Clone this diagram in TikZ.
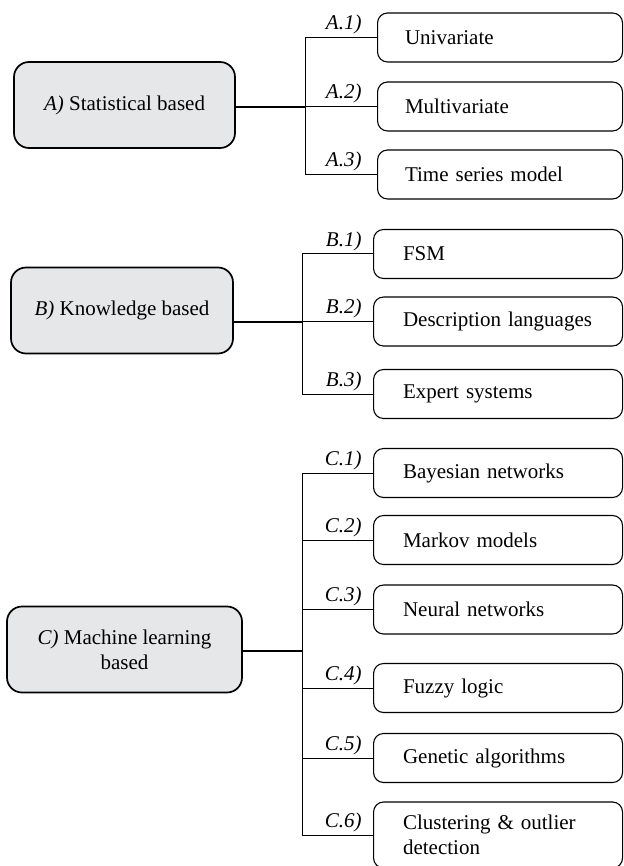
\documentclass[tikz,border=0pt]{standalone}
\usepackage{fontspec}
\setmainfont{Liberation Serif}
\usepackage{tikz}
\usetikzlibrary{positioning,calc}
\definecolor{boxgrey}{RGB}{230,231,233}

\begin{document}
\begin{tikzpicture}[x=1pt,y=-1pt,
  every node/.style={font=\fontsize{21}{25}\selectfont},
  mainbox/.style={draw,rounded corners=15pt,fill=boxgrey,line width=1.7pt,minimum width=221pt,minimum height=86pt,align=center,inner sep=0pt},
  leafbox/.style={draw,rounded corners=10pt,line width=1.1pt,anchor=west,text width=190pt,align=left,inner xsep=29.5pt,inner ysep=8pt,minimum height=49pt},
  tag/.style={anchor=south east,inner sep=0pt,xshift=-11pt,yshift=3pt,font=\fontsize{21}{25}\selectfont\itshape},
  branch/.style={line width=1pt}]
\useasboundingbox (0,0) rectangle (623,866);

\node[mainbox] (stat) at (124.5,105) {\textit{A)} Statistical based};
\node[mainbox,minimum width=222pt] (know) at (122,310.5) {\textit{B)} Knowledge based};
\node[mainbox,minimum width=235pt] (ml) at (124.5,649.5) {\textit{C)} Machine learning\\based};

\node[leafbox,inner xsep=27.5pt] (uni) at (377,37.5) {Univariate};
\node[leafbox,inner xsep=27.5pt] (mul) at (377,106.5) {Multivariate};
\node[leafbox,inner xsep=27.5pt] (tsm) at (377,174.5) {Time series model};

\node[leafbox] (fsm) at (373,254) {FSM};
\node[leafbox] (dl) at (373,321.5) {Description languages};
\node[leafbox] (es) at (373,394) {Expert systems};

\node[leafbox] (bn) at (373,473) {Bayesian networks};
\node[leafbox] (mm) at (373,540) {Markov models};
\node[leafbox] (nn) at (373,609.5) {Neural networks};
\node[leafbox] (fl) at (373,688) {Fuzzy logic};
\node[leafbox] (ga) at (373,758) {Genetic algorithms};
\node[leafbox,minimum height=66pt] (co) at (373,835) {Clustering \& outlier detection};

\coordinate (sx) at (305,107);
\coordinate (kx) at (302,322);
\coordinate (mx) at (302,651);

\draw[line width=1.7pt] (stat.east |- sx) -- (sx);
\draw[line width=1.3pt] (know.east |- kx) -- (kx);
\draw[line width=1.3pt] (ml.east |- mx) -- (mx);

\draw[branch] (sx |- uni.west) -- (sx |- tsm.west);
\draw[branch] (kx |- fsm.west) -- (kx |- es.west);
\draw[branch] (mx |- bn.west) -- (mx |- co.west);

\foreach \n/\t in {uni/A.1),mul/A.2),tsm/A.3)}
  \draw[branch] (sx |- \n.west) -- (\n.west) node[tag,xshift=-4pt] {\t};
\foreach \n/\t in {fsm/B.1),dl/B.2),es/B.3)}
  \draw[branch] (kx |- \n.west) -- (\n.west) node[tag] {\t};
\foreach \n/\t in {bn/C.1),mm/C.2),nn/C.3),fl/C.4),ga/C.5),co/C.6)}
  \draw[branch] (mx |- \n.west) -- (\n.west) node[tag] {\t};
\end{tikzpicture}
\end{document}
